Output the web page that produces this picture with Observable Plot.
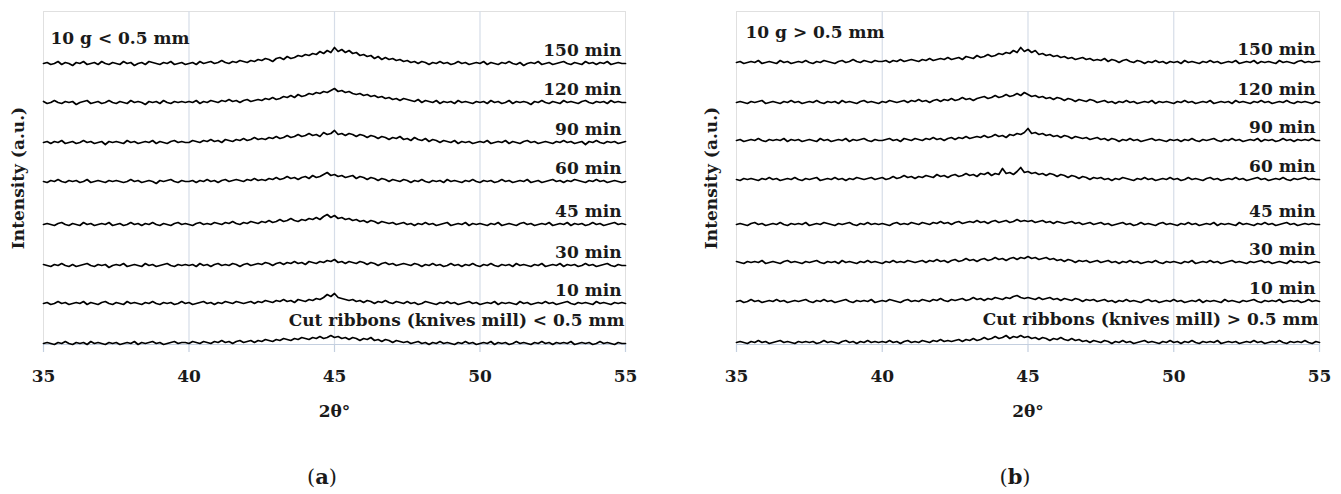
<!DOCTYPE html>
<html>
<head>
<meta charset="utf-8">
<script src="https://cdn.jsdelivr.net/npm/d3@7"></script>
<script src="https://cdn.jsdelivr.net/npm/@observablehq/plot@0.6"></script>
<style>
  html, body { margin: 0; padding: 0; background: #fff; }
  body { width: 1341px; height: 494px; position: relative; overflow: hidden; font-family: "DejaVu Serif", serif; color: #1a1a1a; }
  .panel { position: absolute; top: 0; }
  .caption { position: absolute; top: 463px; width: 80px; text-align: center; font-size: 21px; line-height: 28px; }
  .caption b { font-weight: bold; }
</style>
</head>
<body>
<div id="pa" class="panel" style="left:0px"></div>
<div id="pb" class="panel" style="left:670px"></div>
<div class="caption" style="left:282px">(<b>a</b>)</div>
<div class="caption" style="left:975px">(<b>b</b>)</div>
<script>
// 2θ sampling positions (degrees), 0.125° steps from 35 to 55
const angles = d3.range(161).map(i => 35 + i * 0.125);
const xTicks = [35, 40, 45, 50, 55];

// ---------- Panel (a): 10 g < 0.5 mm ----------
const titleA = "10 g < 0.5 mm";
const labelsA = ["150 min", "120 min", "90 min", "60 min", "45 min", "30 min", "10 min", "Cut ribbons (knives mill) < 0.5 mm"];
const offsetsA = [281, 242, 202, 163, 120, 79, 41, 1];
const A150 = [
0,1,-1,0,2,-1,1,0,-2,1,0,2,-1,0,1,-1,2,0,-1,1,
0,-1,2,0,1,-2,0,1,-1,2,1,0,-1,1,0,2,-1,0,1,-1,
0,1,-1,2,0,1,2,0,1,3,1,0,2,1,3,2,1,3,2,4,
3,5,4,2,5,6,4,7,5,6,8,7,9,8,10,9,12,10,13,11,
16,12,14,11,13,10,11,8,9,7,8,5,7,4,6,4,5,3,4,2,
3,1,2,0,2,1,-1,1,0,2,0,1,-1,0,2,0,1,-1,0,1,
0,2,-1,1,0,-1,1,0,2,0,-1,1,-2,0,1,0,2,-1,0,1,
-1,0,1,2,0,-1,1,0,-1,2,0,1,-1,1,0,2,-1,0,1,0,
0];
const A120 = [
1,-1,0,2,0,-1,1,0,1,-2,0,1,2,-1,0,1,-1,0,2,0,
-1,1,0,-1,2,0,1,0,-2,1,0,1,-1,2,0,-1,1,0,1,0,
1,0,2,-1,1,0,2,1,0,2,1,3,1,2,0,2,3,1,2,3,
2,4,3,5,3,4,6,5,7,5,8,6,7,9,8,10,9,11,10,12,
14,11,12,10,11,9,8,9,7,8,6,7,5,6,4,5,3,4,2,4,
3,2,1,3,0,2,1,0,2,-1,1,0,1,-1,2,0,1,0,-1,1,
0,1,-1,2,0,1,-1,0,2,-1,1,0,1,0,-2,1,0,2,0,-1,
1,0,-1,2,0,1,0,-1,1,2,0,-1,1,0,1,-1,2,0,1,0,
0];
const A90 = [
0,1,-1,1,0,2,-1,0,1,-1,0,2,0,1,-1,0,1,-2,1,0,
1,0,-1,2,0,1,-1,0,1,0,2,-1,1,0,-1,1,2,0,1,0,
0,2,1,0,2,1,3,1,2,0,3,2,1,3,2,4,2,3,5,3,
4,3,5,4,6,4,5,7,5,6,8,6,7,9,7,8,6,10,8,9,
12,8,9,7,9,8,6,8,7,5,7,6,4,6,5,3,5,4,6,3,
4,2,5,3,2,4,1,3,2,0,2,1,0,2,-1,1,0,1,-1,0,
1,0,2,-1,0,1,0,2,-1,1,0,-1,1,2,0,1,-1,0,1,0,
-1,1,0,2,0,1,-1,0,1,-2,1,0,2,0,-1,1,0,1,-1,0,
1];
const A60 = [
0,-1,1,0,2,0,-1,1,0,1,-1,0,2,-1,0,1,0,-1,1,0,
1,0,-1,0,2,0,1,-1,0,1,0,-2,1,0,1,2,0,-1,1,0,
0,1,-1,1,0,2,0,1,-1,1,2,0,1,2,1,0,2,1,3,1,
2,1,3,2,4,2,3,5,3,4,2,4,5,3,6,4,5,7,9,6,
7,5,6,4,5,6,3,5,4,2,4,3,1,3,2,0,2,1,0,2,
1,-1,1,0,2,0,-1,1,0,1,-1,2,0,1,0,-1,1,0,2,0,
-1,1,0,1,-1,0,2,0,1,-1,0,1,0,2,-1,0,1,-1,0,1,
2,0,1,-1,1,0,2,1,0,-1,1,0,2,0,1,-1,0,1,0,-1,
0];
const A45 = [
0,1,0,-1,1,2,0,-1,1,0,-1,2,0,1,-1,0,1,0,2,-1,
0,1,-1,0,2,0,1,-1,1,0,2,0,-1,1,0,-1,1,2,0,1,
0,-1,1,2,0,1,0,2,1,0,2,1,3,1,0,2,1,3,2,1,
3,2,4,2,3,5,3,4,6,4,3,5,4,6,5,7,5,8,10,7,
9,6,7,5,6,4,5,3,4,2,4,3,1,3,2,1,2,0,1,2,
0,1,-1,1,0,2,0,1,-1,0,1,2,-1,0,1,0,2,-1,1,0,
1,0,-1,1,0,2,-1,0,1,0,-1,1,2,0,1,-1,0,1,0,2,
-1,0,1,0,2,-1,1,0,1,-1,0,2,0,1,-1,0,1,2,0,1,
0];
const A30 = [
1,0,-1,1,0,2,0,-1,1,-1,0,1,2,0,-1,1,0,1,-2,0,
1,0,2,-1,0,1,0,-1,2,0,1,-1,0,1,2,0,-1,1,0,1,
0,1,-1,2,0,1,-1,1,2,0,1,0,2,1,-1,1,2,0,1,2,
1,3,2,0,2,3,1,3,2,4,2,3,1,4,3,2,4,3,5,4,
6,3,4,2,4,3,2,4,3,1,3,2,0,2,3,1,2,0,1,2,
1,0,2,1,-1,1,0,2,0,1,-1,0,2,0,1,-1,1,0,2,0,
-1,1,0,2,0,-1,1,0,1,-1,2,0,1,0,-1,1,0,2,-1,0,
1,0,2,-1,1,0,1,-1,0,2,0,1,-1,0,1,2,0,-1,1,0,
0];
const A10 = [
0,1,-1,0,2,0,1,-1,0,1,0,2,-1,1,0,-1,1,2,0,-1,
1,0,-1,2,0,1,0,-1,1,0,2,0,-1,1,0,1,-1,0,2,0,
1,-1,0,1,2,0,1,-1,1,0,2,1,0,2,1,0,1,2,0,2,
1,3,2,1,3,2,4,2,3,1,4,3,2,4,3,5,4,6,9,7,
10,6,5,4,3,4,2,3,1,3,2,0,2,1,3,1,0,2,1,0,
2,0,1,-1,0,2,1,0,-1,1,0,2,0,1,-1,0,1,2,0,1,
-1,0,1,0,2,-1,1,0,1,0,-1,2,0,1,-1,0,1,0,2,0,
1,-1,0,1,2,0,-1,1,0,1,0,-1,2,0,1,0,-1,1,0,1,
0];
const ACut = [
0,1,0,-1,1,0,2,0,-1,1,0,1,-1,2,0,1,0,-1,1,0,
1,-1,0,1,0,2,-1,1,0,1,2,0,1,-1,0,1,2,0,1,1,
0,2,1,0,2,1,0,2,1,3,1,2,0,2,3,1,2,3,1,3,
2,4,3,2,4,3,5,4,3,5,4,6,5,4,6,5,7,5,6,8,
6,7,5,6,4,6,5,3,5,4,6,3,4,2,4,3,1,3,2,1,
2,0,1,2,0,1,-1,1,0,2,0,1,0,-1,1,0,2,0,1,-1,
0,1,0,2,-1,1,0,1,-1,0,2,0,1,0,-1,1,0,2,0,1,
-1,1,0,1,0,2,-1,0,1,0,1,-1,0,2,0,1,0,-1,1,0,
0];
const tracesA = [A150, A120, A90, A60, A45, A30, A10, ACut];

// ---------- Panel (b): 10 g > 0.5 mm ----------
const titleB = "10 g > 0.5 mm";
const labelsB = ["150 min", "120 min", "90 min", "60 min", "45 min", "30 min", "10 min", "Cut ribbons (knives mill) > 0.5 mm"];
const offsetsB = [282, 242, 204, 165, 120, 82, 43, 2];
const B150 = [
0,1,-1,0,1,0,2,-1,0,1,0,-1,2,0,1,-1,0,1,0,2,
0,-1,1,0,2,1,0,-1,1,2,0,1,3,1,0,2,1,0,2,1,
1,2,0,2,1,3,1,2,3,2,1,3,2,4,2,3,4,3,5,3,
4,5,3,6,5,4,7,5,6,8,6,7,9,8,10,9,12,10,15,11,
13,10,12,8,9,7,8,6,7,5,6,4,5,3,4,5,3,4,2,3,
2,4,1,3,2,0,2,3,1,0,2,1,-1,1,0,2,0,1,-1,1,
0,1,-1,2,0,1,0,-1,1,0,2,0,1,-1,0,1,0,2,-1,0,
1,0,2,-1,1,0,1,0,-1,2,0,1,0,-1,1,2,0,1,0,1,
1];
const B120 = [
0,1,0,-1,1,0,1,2,-1,0,1,0,-1,1,0,2,0,1,-1,0,
1,0,2,0,-1,1,0,1,-1,2,0,1,0,-1,1,2,0,1,0,-1,
1,0,2,1,0,1,2,0,2,1,3,1,2,0,2,3,1,3,2,4,
2,3,5,3,4,2,4,5,6,4,5,7,5,6,8,6,7,9,7,10,
8,6,7,5,6,4,5,3,5,4,2,4,3,1,3,2,1,3,2,0,
1,2,0,1,-1,1,0,2,0,1,-1,0,1,0,2,-1,1,0,1,0,
-1,1,0,2,0,1,-1,0,1,0,2,-1,0,1,0,1,-1,2,0,1,
0,-1,1,0,2,0,1,-1,0,1,0,2,0,-1,1,0,1,0,-1,1,
0];
const B90 = [
0,1,-1,0,1,0,2,0,-1,1,0,1,0,2,-1,1,0,1,-1,0,
1,0,-1,2,0,1,-1,0,1,0,2,-1,1,0,1,2,0,-1,1,0,
0,1,2,0,1,-1,2,1,0,2,1,0,2,1,3,1,2,0,2,3,
1,3,2,4,2,3,4,3,5,3,4,6,4,5,3,6,5,7,6,8,
12,7,8,6,7,5,6,4,5,3,5,4,2,4,3,2,3,1,2,3,
1,2,0,2,1,-1,1,0,2,0,1,-1,0,1,2,0,1,0,-1,1,
0,1,-1,1,0,2,0,-1,1,0,1,2,0,-1,1,0,2,0,1,-1,
0,1,0,2,-1,1,0,1,-1,0,2,0,1,-1,1,0,1,0,2,0,
0];
const B60 = [
0,-1,1,0,1,0,-1,1,0,2,0,1,-1,0,1,0,2,0,-1,1,
0,1,2,-1,0,1,0,2,0,1,-1,1,0,2,1,0,1,2,0,1,
2,0,1,3,1,2,4,2,3,1,3,2,4,3,2,5,3,4,2,4,
5,3,4,6,4,5,3,6,5,7,4,6,5,11,6,7,5,8,12,7,
8,6,7,5,6,4,6,5,3,5,4,2,4,3,1,3,2,0,2,1,
2,0,1,-1,1,0,2,1,0,-1,1,0,2,0,1,-1,0,1,0,2,
0,1,-1,0,2,0,1,0,-1,1,2,0,1,-1,0,1,0,2,0,1,
-1,0,1,2,0,1,-1,0,1,0,2,0,-1,1,0,1,2,0,1,0,
0];
const B45 = [
0,1,0,-1,1,2,0,1,-1,0,1,0,2,0,-1,1,0,1,0,2,
-1,0,1,0,2,1,0,-1,1,0,1,2,0,-1,1,0,2,0,1,0,
1,0,-1,1,2,0,1,0,2,1,0,2,1,0,2,1,3,1,2,0,
2,3,1,2,3,2,4,2,3,1,3,4,2,3,4,2,3,5,3,4,
3,4,2,3,4,2,3,1,3,2,1,2,3,1,2,0,1,2,0,1,
2,0,1,-1,0,1,2,0,1,-1,0,2,0,1,0,-1,1,2,0,1,
0,-1,1,0,2,0,1,-1,0,1,0,2,-1,1,0,1,0,-1,2,0,
1,0,-1,1,0,2,0,1,-1,0,1,2,0,1,-1,0,1,0,1,0,
0];
const B30 = [
1,0,-1,1,0,1,0,2,-1,0,1,0,-1,1,2,0,1,0,-1,1,
0,1,2,0,-1,1,0,1,-1,2,0,1,0,-1,1,0,2,0,1,0,
-1,1,0,2,0,1,0,2,1,0,1,2,0,2,1,3,1,2,0,2,
3,1,2,4,2,3,1,3,4,2,3,5,3,4,2,4,5,3,5,4,
6,4,5,3,4,5,3,4,2,3,1,3,2,0,2,1,2,0,1,2,
0,1,2,0,1,-1,1,0,2,0,1,-1,0,1,0,2,0,-1,1,0,
1,0,-1,1,0,2,-1,0,1,0,2,0,1,-1,0,1,2,0,1,0,
-1,1,0,1,2,0,1,-1,0,1,0,-1,2,0,1,0,1,-1,0,1,
0];
const B10 = [
0,1,-1,0,2,0,1,-1,0,1,0,2,0,1,-1,0,1,0,1,2,
0,-1,1,0,2,0,1,-1,0,1,2,0,-1,1,0,1,0,2,-1,0,
1,0,2,1,0,-1,1,2,0,1,0,2,1,0,2,1,3,1,0,2,
1,2,3,1,2,4,2,3,1,3,2,4,3,2,4,3,5,6,4,3,
4,3,2,4,2,3,4,2,3,1,3,2,1,3,2,0,2,1,2,0,
1,2,0,1,-1,1,0,2,0,1,0,-1,1,2,0,1,-1,0,1,0,
2,0,1,-1,0,1,0,2,-1,1,0,1,0,-1,2,0,1,0,-1,1,
0,1,2,0,-1,1,0,1,0,2,-1,0,1,0,1,-1,0,2,0,1,
0];
const BCut = [
0,1,0,-1,1,0,2,0,1,-1,0,1,2,0,1,0,-1,1,0,1,
0,1,-1,0,2,0,1,0,-1,1,2,0,1,-1,1,0,2,0,1,0,
1,0,2,0,1,-1,1,2,0,1,0,2,1,0,2,1,3,1,2,1,
2,3,1,3,2,4,2,3,5,3,4,6,4,5,7,4,6,5,7,5,
6,4,5,3,5,4,2,4,3,5,3,2,4,2,3,1,2,0,2,1,
0,2,1,-1,1,0,2,0,1,-1,0,1,2,0,1,0,-1,1,0,2,
0,1,-1,1,0,2,0,-1,1,0,1,0,2,-1,0,1,0,1,-1,0,
1,0,2,0,1,-1,0,1,0,2,0,-1,1,0,1,0,2,0,-1,1,
0];
const tracesB = [B150, B120, B90, B60, B45, B30, B10, BCut];

const FONT = "DejaVu Serif";
const INK = "#1a1a1a";
const AXIS_BLUE = "#c4cfdf";
const GRID_BLUE = "#d6dde8";

function panel({title, labels, offsets, traces, width, marginLeft, marginRight, titleDx, titleDy}) {
  const rows = traces.flatMap((vals, k) =>
    vals.map((v, i) => ({angle: angles[i], intensity: offsets[k] + v, series: labels[k]})));
  const lab = labels.map((l, k) => ({label: l, y: offsets[k], cut: k === labels.length - 1}));
  const textStyle = {fill: INK, fontSize: 17, fontWeight: "bold", fontFamily: FONT};
  return Plot.plot({
    width, height: 430,
    marginTop: 11, marginBottom: 86, marginLeft, marginRight,
    style: {fontFamily: FONT, fontSize: "17px", fontWeight: "bold", color: INK, background: "white", overflow: "visible"},
    x: {domain: [35, 55], label: null},
    y: {domain: [0, 333], axis: null},
    marks: [
      Plot.frame({stroke: "#e0e0e0"}),
      Plot.gridX([40, 45, 50], {stroke: GRID_BLUE, strokeOpacity: 1, strokeWidth: 1.2}),
      Plot.ruleY([0], {stroke: AXIS_BLUE, strokeWidth: 1.2}),
      Plot.axisX({ticks: xTicks, tickFormat: d => String(d), tickSize: 8, tickPadding: 17,
        stroke: AXIS_BLUE, strokeWidth: 1.2, fill: INK, fontSize: 17, fontWeight: "bold", label: null}),
      Plot.line(rows, {x: "angle", y: "intensity", z: "series", stroke: "#000", strokeWidth: 1.7}),
      Plot.text(lab.filter(d => !d.cut), {x: () => 55, y: "y", text: "label", textAnchor: "end", dx: -4, dy: -13, ...textStyle}),
      Plot.text(lab.filter(d => d.cut), {x: () => 55, y: "y", text: "label", textAnchor: "end", dx: -1, dy: -23, ...textStyle}),
      Plot.text([title], {frameAnchor: "top-left", text: d => d, dx: titleDx, dy: titleDy, ...textStyle}),
      Plot.text(["2θ°"], {frameAnchor: "bottom", text: d => d, lineAnchor: "middle", dy: 67, ...textStyle}),
      Plot.text(["Intensity (a.u.)"], {frameAnchor: "left", text: d => d, rotate: -90, textAnchor: "middle", lineAnchor: "middle", dx: -25, ...textStyle})
    ]
  });
}

document.getElementById("pa").append(panel({
  title: titleA, labels: labelsA, offsets: offsetsA, traces: tracesA,
  width: 670, marginLeft: 43, marginRight: 45, titleDx: 7, titleDy: 20
}));
document.getElementById("pb").append(panel({
  title: titleB, labels: labelsB, offsets: offsetsB, traces: tracesB,
  width: 671, marginLeft: 66, marginRight: 22, titleDx: 9, titleDy: 14
}));
</script>
</body>
</html>
